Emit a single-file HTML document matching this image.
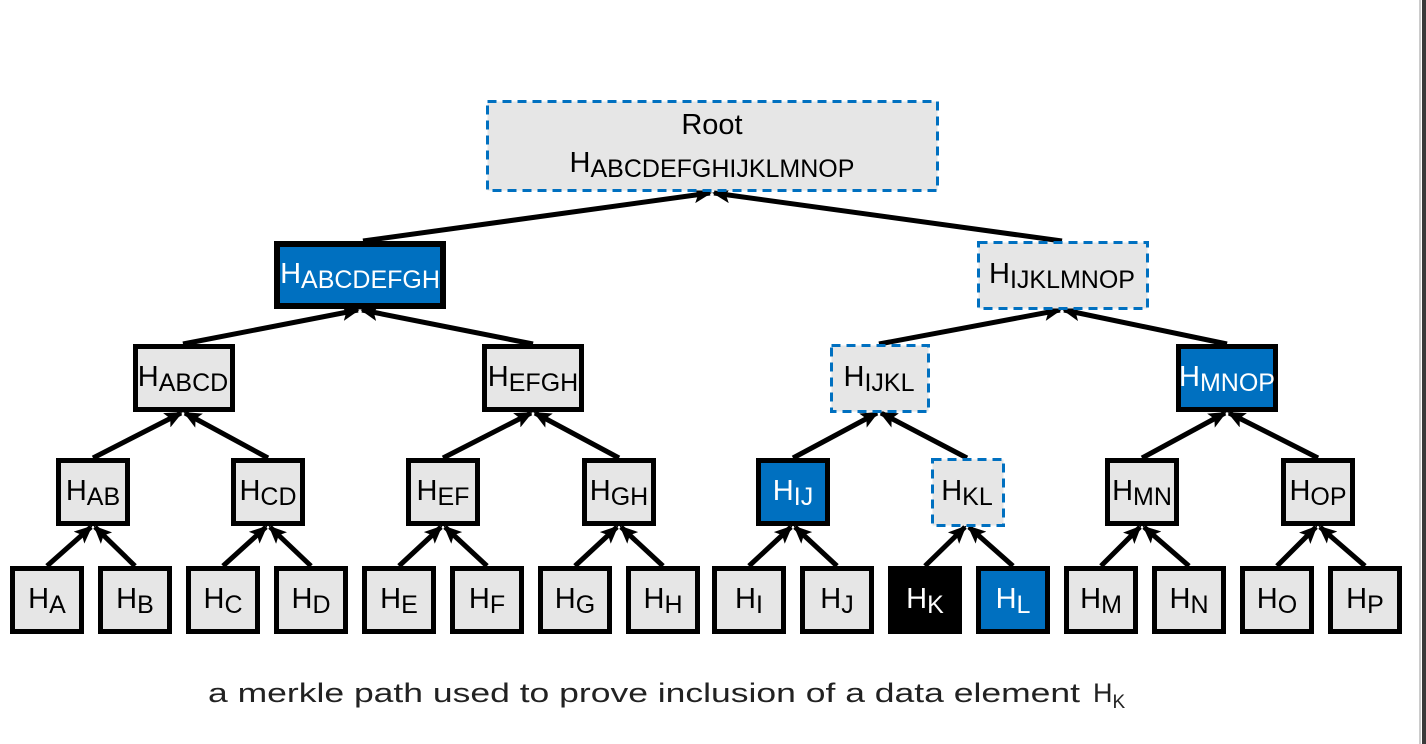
<!DOCTYPE html>
<html><head><meta charset="utf-8"><style>
html,body{margin:0;padding:0;background:#fff}
svg{display:block}
.t{font-family:"Liberation Sans Narrow","Liberation Sans",sans-serif;font-size:29px;text-anchor:middle}
.s{font-size:25px}
</style></head><body>
<svg width="1426" height="744" viewBox="0 0 1426 744" xmlns="http://www.w3.org/2000/svg">
<defs>
<marker id="a" markerUnits="userSpaceOnUse" markerWidth="18" markerHeight="16" refX="16" refY="8" orient="auto">
<path d="M0,0 L18,8 L0,16 L4,8 Z" fill="#000"/>
</marker>
</defs>
<rect x="1422" y="0" width="4" height="744" fill="#3a3a3a"/>
<rect x="1419" y="0" width="2" height="744" fill="#ccc"/>
<g stroke="#000" stroke-width="5" fill="none" marker-end="url(#a)">
<line x1="363" y1="241" x2="710" y2="193"/>
<line x1="1062" y1="241" x2="714" y2="193"/>
<line x1="183" y1="344" x2="358" y2="310"/>
<line x1="533" y1="344" x2="362" y2="310"/>
<line x1="879" y1="344" x2="1060" y2="310"/>
<line x1="1227" y1="344" x2="1064" y2="310"/>
<line x1="93" y1="458" x2="181" y2="413"/>
<line x1="268" y1="458" x2="185" y2="413"/>
<line x1="443" y1="458" x2="531" y2="413"/>
<line x1="619" y1="458" x2="535" y2="413"/>
<line x1="793" y1="458" x2="877" y2="413"/>
<line x1="967" y1="458" x2="881" y2="413"/>
<line x1="1142" y1="458" x2="1225" y2="413"/>
<line x1="1318" y1="458" x2="1229" y2="413"/>
<line x1="47" y1="566" x2="91" y2="527"/><line x1="135" y1="566" x2="95" y2="527"/>
<line x1="223" y1="566" x2="266" y2="527"/><line x1="311" y1="566" x2="270" y2="527"/>
<line x1="399" y1="566" x2="441" y2="527"/><line x1="487" y1="566" x2="445" y2="527"/>
<line x1="575" y1="566" x2="617" y2="527"/><line x1="663" y1="566" x2="621" y2="527"/>
<line x1="749" y1="566" x2="791" y2="527"/><line x1="837" y1="566" x2="795" y2="527"/>
<line x1="925" y1="566" x2="965" y2="527"/><line x1="1013" y1="566" x2="969" y2="527"/>
<line x1="1101" y1="566" x2="1140" y2="527"/><line x1="1189" y1="566" x2="1144" y2="527"/>
<line x1="1277" y1="566" x2="1316" y2="527"/><line x1="1365" y1="566" x2="1320" y2="527"/>
</g>
<!-- dashed nodes -->
<g fill="#e6e6e6" stroke="#0070c0" stroke-width="3" stroke-dasharray="9,6">
<rect x="487.5" y="101.5" width="450" height="89"/>
<rect x="978.5" y="242.5" width="169" height="66"/>
<rect x="831.5" y="345.5" width="97" height="66"/>
<rect x="932.5" y="459.5" width="71" height="66"/>
</g>
<!-- solid grey nodes -->
<g fill="#e6e6e6" stroke="#000" stroke-width="5">
<rect x="135.5" y="346.5" width="97" height="63"/>
<rect x="484.5" y="346.5" width="97" height="63"/>
<rect x="58.5" y="460.5" width="69" height="63"/>
<rect x="233.5" y="460.5" width="69" height="63"/>
<rect x="408.5" y="460.5" width="69" height="63"/>
<rect x="584.5" y="460.5" width="69" height="63"/>
<rect x="1107.5" y="460.5" width="69" height="63"/>
<rect x="1283.5" y="460.5" width="69" height="63"/>
<rect x="12.5" y="568.5" width="69" height="63"/>
<rect x="100.5" y="568.5" width="69" height="63"/>
<rect x="188.5" y="568.5" width="69" height="63"/>
<rect x="276.5" y="568.5" width="69" height="63"/>
<rect x="364.5" y="568.5" width="69" height="63"/>
<rect x="452.5" y="568.5" width="69" height="63"/>
<rect x="540.5" y="568.5" width="69" height="63"/>
<rect x="628.5" y="568.5" width="69" height="63"/>
<rect x="714.5" y="568.5" width="69" height="63"/>
<rect x="802.5" y="568.5" width="69" height="63"/>
<rect x="1066.5" y="568.5" width="69" height="63"/>
<rect x="1154.5" y="568.5" width="69" height="63"/>
<rect x="1242.5" y="568.5" width="69" height="63"/>
<rect x="1330.5" y="568.5" width="69" height="63"/>
</g>
<g fill="#0070c0" stroke="#000">
<rect x="277" y="244" width="166" height="62" stroke-width="6"/>
<rect x="1178.5" y="346.5" width="97" height="63" stroke-width="5"/>
<rect x="758.5" y="460.5" width="69" height="63" stroke-width="5"/>
<rect x="978.5" y="568.5" width="69" height="63" stroke-width="5"/>
</g>
<rect x="888" y="566" width="74" height="68" fill="#000"/>
<!-- labels -->
<g class="t" fill="#000">
<text x="712" y="134">Root</text>
<text x="712" y="172">H<tspan class="s" dy="5">ABCDEFGHIJKLMNOP</tspan></text>
<text x="1062" y="283">H<tspan class="s" dy="5">IJKLMNOP</tspan></text>
<text x="183" y="386">H<tspan class="s" dy="5">ABCD</tspan></text>
<text x="533" y="386">H<tspan class="s" dy="5">EFGH</tspan></text>
<text x="879" y="386">H<tspan class="s" dy="5">IJKL</tspan></text>
<text x="93" y="500">H<tspan class="s" dy="5">AB</tspan></text>
<text x="268" y="500">H<tspan class="s" dy="5">CD</tspan></text>
<text x="443" y="500">H<tspan class="s" dy="5">EF</tspan></text>
<text x="619" y="500">H<tspan class="s" dy="5">GH</tspan></text>
<text x="967" y="500">H<tspan class="s" dy="5">KL</tspan></text>
<text x="1142" y="500">H<tspan class="s" dy="5">MN</tspan></text>
<text x="1318" y="500">H<tspan class="s" dy="5">OP</tspan></text>
<text x="47" y="608">H<tspan class="s" dy="5">A</tspan></text>
<text x="135" y="608">H<tspan class="s" dy="5">B</tspan></text>
<text x="223" y="608">H<tspan class="s" dy="5">C</tspan></text>
<text x="311" y="608">H<tspan class="s" dy="5">D</tspan></text>
<text x="399" y="608">H<tspan class="s" dy="5">E</tspan></text>
<text x="487" y="608">H<tspan class="s" dy="5">F</tspan></text>
<text x="575" y="608">H<tspan class="s" dy="5">G</tspan></text>
<text x="663" y="608">H<tspan class="s" dy="5">H</tspan></text>
<text x="749" y="608">H<tspan class="s" dy="5">I</tspan></text>
<text x="837" y="608">H<tspan class="s" dy="5">J</tspan></text>
<text x="1101" y="608">H<tspan class="s" dy="5">M</tspan></text>
<text x="1189" y="608">H<tspan class="s" dy="5">N</tspan></text>
<text x="1277" y="608">H<tspan class="s" dy="5">O</tspan></text>
<text x="1365" y="608">H<tspan class="s" dy="5">P</tspan></text>
</g>
<g class="t" fill="#fff">
<text x="360" y="283">H<tspan class="s" dy="5">ABCDEFGH</tspan></text>
<text x="1227" y="386">H<tspan class="s" dy="5">MNOP</tspan></text>
<text x="793" y="500">H<tspan class="s" dy="5">IJ</tspan></text>
<text x="925" y="608">H<tspan class="s" dy="5">K</tspan></text>
<text x="1013" y="608">H<tspan class="s" dy="5">L</tspan></text>
</g>
<text x="208" y="702" font-family="Liberation Sans, sans-serif" font-size="27" fill="#222" textLength="872" lengthAdjust="spacingAndGlyphs">a merkle path used to prove inclusion of a data element</text>
<text x="1093" y="702" font-family="Liberation Sans, sans-serif" font-size="27" fill="#222">H<tspan font-size="19" dy="6">K</tspan></text>
</svg>
</body></html>
